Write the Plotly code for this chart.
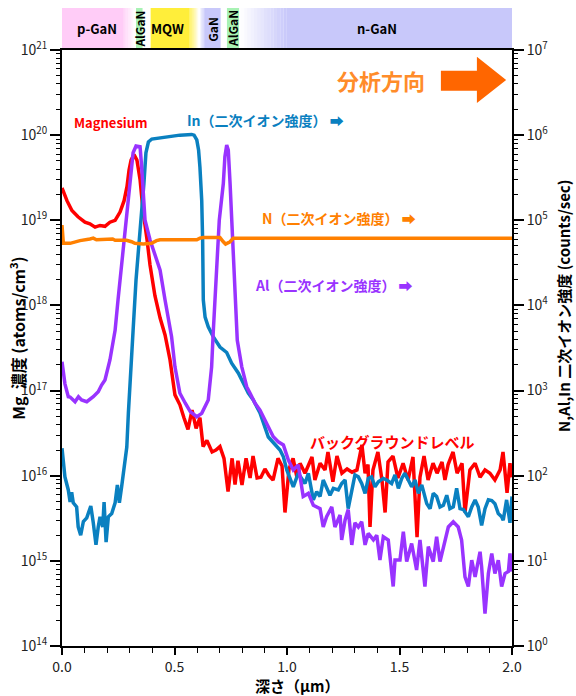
import plotly.graph_objects as go

# ---------------- data ----------------
mg_depth = [0.000, 0.022, 0.044, 0.071, 0.102, 0.124, 0.147, 0.169, 0.191, 0.213,
            0.236, 0.258, 0.276, 0.289, 0.298, 0.307, 0.320, 0.333, 0.347, 0.360,
            0.378, 0.391, 0.413, 0.436, 0.458, 0.480, 0.502, 0.524, 0.542, 0.560,
            0.578, 0.596, 0.613, 0.627, 0.644, 0.667, 0.684, 0.702, 0.720, 0.738,
            0.756, 0.769, 0.782, 0.800, 0.818, 0.836, 0.849, 0.867, 0.884, 0.902,
            0.920, 0.938, 0.960, 0.978, 0.991, 1.009, 1.027, 1.044, 1.058, 1.080,
            1.111, 1.124, 1.147, 1.169, 1.182, 1.204, 1.222, 1.244, 1.267, 1.289,
            1.311, 1.333, 1.347, 1.360, 1.369, 1.382, 1.404, 1.422, 1.436, 1.449,
            1.471, 1.493, 1.516, 1.538, 1.560, 1.578, 1.591, 1.609, 1.627, 1.649,
            1.667, 1.689, 1.702, 1.716, 1.738, 1.756, 1.778, 1.791, 1.813, 1.836,
            1.858, 1.880, 1.902, 1.924, 1.947, 1.960, 1.978, 1.991, 2.000]
mg_conc = [2.4e19, 1.7e19, 1.3e19, 1.1e19, 9.5e18, 9.1e18, 8.3e18, 8.7e18, 8.5e18, 9.5e18,
           1.0e19, 1.25e19, 1.7e19, 2.5e19, 3.9e19, 5.1e19, 5.9e19, 5.1e19, 3.0e19, 1.3e19,
           5.9e18, 3.0e18, 1.3e18, 7.1e17, 4.5e17, 2.3e17, 8.9e16, 6.8e16, 4.8e16, 3.5e16,
           5.9e16, 3.6e16, 4.8e16, 2.2e16, 2.6e16, 1.9e16, 2.0e16, 2.2e16, 1.6e16, 6.5e15,
           1.6e16, 7.9e15, 1.5e16, 7.8e15, 1.6e16, 9.4e15, 1.7e16, 9.4e15, 9.6e15, 1.2e16,
           1.0e16, 8.9e15, 1.6e16, 1.3e16, 3.7e15, 1.2e16, 1.6e16, 9.6e15, 1.4e16, 1.07e16,
           1.66e16, 8.9e15, 1.4e16, 1.17e16, 1.9e16, 8.5e15, 1.7e16, 1.07e16, 1.2e16, 1.1e16,
           1.17e16, 2.3e16, 1.07e16, 1.35e16, 2.5e15, 1.17e16, 1.9e16, 8.9e15, 3.7e15, 1.45e16,
           1.7e16, 9.4e15, 1.4e16, 8.9e15, 1.66e16, 1.9e15, 9.6e15, 1.7e16, 8.9e15, 1.4e16,
           1.07e16, 1.45e16, 8.9e15, 1.35e16, 1.9e16, 1.07e16, 1.4e16, 3.7e15, 1.17e16, 1.4e16,
           9.6e15, 1.17e16, 1.07e16, 8.9e15, 1.17e16, 1.9e16, 6.3e15, 1.4e16, 9.6e15]

in_depth = [0.000, 0.013, 0.028, 0.036, 0.043, 0.050, 0.065, 0.072, 0.083, 0.095,
            0.110, 0.128, 0.139, 0.151, 0.161, 0.169, 0.181, 0.187, 0.196, 0.206,
            0.221, 0.236, 0.246, 0.255, 0.265, 0.280, 0.288, 0.295, 0.302, 0.316,
            0.329, 0.342, 0.354, 0.364, 0.373, 0.384, 0.399, 0.421, 0.436, 0.480,
            0.524, 0.576, 0.587, 0.599, 0.607, 0.613, 0.621, 0.625, 0.628, 0.636,
            0.650, 0.672, 0.702, 0.732, 0.754, 0.784, 0.806, 0.828, 0.850, 0.880,
            0.917, 0.969, 0.984, 0.999, 1.028, 1.050, 1.065, 1.080, 1.095, 1.110,
            1.117, 1.132, 1.147, 1.161, 1.176, 1.191, 1.206, 1.228, 1.243, 1.258,
            1.272, 1.288, 1.302, 1.317, 1.332, 1.347, 1.361, 1.376, 1.391, 1.406,
            1.428, 1.443, 1.465, 1.480, 1.495, 1.510, 1.524, 1.539, 1.554, 1.569,
            1.584, 1.599, 1.621, 1.636, 1.643, 1.650, 1.665, 1.680, 1.695, 1.710,
            1.724, 1.739, 1.754, 1.769, 1.784, 1.806, 1.821, 1.836, 1.850, 1.865,
            1.880, 1.895, 1.910, 1.924, 1.939, 1.954, 1.961, 1.976, 1.991, 2.000]
in_counts = [210, 97, 68, 49, 64, 48, 43, 25, 20, 29,
             32, 44, 28, 15.4, 25, 33, 25, 49, 16.6, 33,
             36, 48, 78, 48, 74, 141, 217, 545, 1330, 5100,
             2.0e4, 5.1e4, 1.06e5, 2.7e5, 6.2e5, 8.3e5, 9.0e5, 9.2e5, 9.2e5, 9.6e5,
             1.0e6, 1.02e6, 1.0e6, 8.8e5, 6.7e5, 4.2e5, 1.7e5, 5.9e4, 1.16e4, 7.3e3,
             5.6e3, 4.3e3, 3.25e3, 2.8e3, 2.1e3, 1.6e3, 1.23e3, 935, 775, 545,
             285, 200, 167, 117, 74, 107, 93, 81, 107, 68,
             52, 65, 57, 89, 74, 59, 71, 68, 81, 89,
             41, 68, 102, 97, 81, 62, 93, 97, 74, 85,
             93, 89, 81, 102, 71, 93, 107, 89, 74, 89,
             62, 78, 47, 41, 52, 62, 57, 43, 45, 59,
             41, 43, 71, 41, 40, 33, 43, 52, 43, 26,
             41, 52, 51, 47, 36, 33, 30, 52, 28, 57]

al_depth = [0.000, 0.013, 0.028, 0.036, 0.058, 0.073, 0.087, 0.110, 0.139, 0.161,
            0.176, 0.191, 0.213, 0.236, 0.249, 0.258, 0.271, 0.287, 0.302, 0.316,
            0.329, 0.347, 0.354, 0.361, 0.369, 0.391, 0.413, 0.436, 0.458, 0.487,
            0.502, 0.524, 0.548, 0.570, 0.599, 0.621, 0.650, 0.665, 0.672, 0.687,
            0.699, 0.717, 0.724, 0.732, 0.739, 0.747, 0.761, 0.769, 0.779, 0.799,
            0.821, 0.836, 0.858, 0.880, 0.895, 0.917, 0.939, 0.961, 0.984, 1.006,
            1.028, 1.050, 1.072, 1.095, 1.117, 1.147, 1.161, 1.176, 1.199, 1.213,
            1.236, 1.243, 1.258, 1.272, 1.288, 1.302, 1.317, 1.332, 1.347, 1.361,
            1.384, 1.399, 1.413, 1.428, 1.450, 1.472, 1.480, 1.502, 1.517, 1.532,
            1.554, 1.576, 1.591, 1.613, 1.628, 1.650, 1.665, 1.680, 1.702, 1.717,
            1.739, 1.761, 1.776, 1.791, 1.806, 1.821, 1.836, 1.858, 1.865, 1.880,
            1.895, 1.910, 1.924, 1.939, 1.954, 1.969, 1.984, 1.991, 2.000]
al_counts = [2180, 1200, 847, 840, 740, 847, 775, 740, 847, 970,
             1160, 1330, 2290, 5100, 1.16e4, 2.0e4, 4.5e4, 1.0e5, 2.7e5, 6.2e5,
             7.45e5, 7.3e5, 4.26e5, 2.1e5, 1.0e5, 5.9e4, 3.9e4, 2.6e4, 1.16e4, 4.3e3,
             1.9e3, 930, 710, 565, 493, 540, 775, 1.9e3, 4.74e3, 2.85e4,
             1.0e5, 2.7e5, 5.58e5, 7.66e5, 6.7e5, 2.7e5, 4.5e4, 1.16e4, 3.9e3, 1.9e3,
             1110, 930, 710, 590, 493, 377, 287, 250, 230, 153,
             117, 134, 57, 62, 45, 41, 25, 33, 43, 25,
             34.5, 17.6, 30, 40, 15.4, 28, 25, 28.8, 15.4, 21,
             17.6, 20, 10.2, 19.2, 17.6, 5.0, 10.2, 10.2, 22, 9.8,
             16, 7.8, 17.6, 5.0, 14.7, 9.8, 19.2, 9.8, 17.6, 25,
             28.8, 25, 17.6, 6.5, 5.0, 10.2, 6.5, 12.8, 8.5, 2.4,
             7.1, 12.2, 7.1, 10.2, 5.0, 7.1, 7.5, 12.2, 7.5]

n_depth = [0.000, 0.006, 0.036, 0.080, 0.124, 0.139, 0.153, 0.213, 0.225, 0.236,
           0.287, 0.309, 0.324, 0.361, 0.398, 0.420, 0.436, 0.599, 0.613, 0.628,
           0.702, 0.717, 0.727, 0.747, 0.761, 2.000]
n_counts = [8.8e4, 5.36e4, 5.36e4, 5.77e4, 6.03e4, 6.17e4, 5.9e4, 5.9e4, 6.03e4, 5.83e4,
            5.83e4, 5.6e4, 5.36e4, 5.26e4, 5.36e4, 5.77e4, 5.9e4, 5.9e4, 6.17e4, 6.27e4,
            6.27e4, 5.6e4, 5.26e4, 5.6e4, 6.17e4, 6.17e4]

left_exponents = [14, 15, 16, 17, 18, 19, 20, 21]
right_exponents = [0, 1, 2, 3, 4, 5, 6, 7]
x_tick_vals = [0.0, 0.5, 1.0, 1.5, 2.0]
x_tick_text = ["0.0", "0.5", "1.0", "1.5", "2.0"]

layer_names = ["p-GaN", "AlGaN", "MQW", "GaN", "AlGaN", "n-GaN"]
layer_start = [0.0, 0.329, 0.394, 0.612, 0.733, 0.795]
layer_end = [0.320, 0.358, 0.607, 0.705, 0.787, 2.0]
layer_fade_in = [0.0, 0.0, 0.0, 0.02, 0.0, 0.204]
layer_fade_out = [0.048, 0.0, 0.042, 0.0, 0.0, 0.0]
layer_colors = ["#FFCCF7", "#A8F2B4", "#FFEE3A", "#C8C8FA", "#A8F2B4", "#C8C8FA"]
layer_label_x = [0.155, 0.345, 0.47, 0.67, 0.76, 1.40]
layer_label_angle = [0, -90, 0, -90, -90, 0]

FONT = "Noto Sans CJK JP"
RED = "#FF0000"
BLUE = "#0A80C0"
PURPLE = "#9933FF"
ORANGE = "#FF8000"

fig = go.Figure()
fig.add_trace(go.Scatter(x=mg_depth, y=mg_conc, mode="lines", name="Mg",
                         line=dict(color=RED, width=3.5), yaxis="y"))
fig.add_trace(go.Scatter(x=in_depth, y=in_counts, mode="lines", name="In",
                         line=dict(color=BLUE, width=3.5), yaxis="y2"))
fig.add_trace(go.Scatter(x=al_depth, y=al_counts, mode="lines", name="Al",
                         line=dict(color=PURPLE, width=3.5), yaxis="y2"))
fig.add_trace(go.Scatter(x=n_depth, y=n_counts, mode="lines", name="N",
                         line=dict(color=ORANGE, width=3.5), yaxis="y2"))

# ---- layer band above the plot ----
shapes = []
BAND_Y0, BAND_Y1 = 1.0, 1.0705
NSLICE = 14
for name, s, e, fi, fo, col in zip(layer_names, layer_start, layer_end,
                                   layer_fade_in, layer_fade_out, layer_colors):
    solid0 = s + fi
    solid1 = e - fo
    shapes.append(dict(type="rect", xref="x", yref="paper", x0=solid0, x1=solid1,
                       y0=BAND_Y0, y1=BAND_Y1, fillcolor=col, line=dict(width=0),
                       layer="below"))
    if fi > 0:
        w = fi / NSLICE
        for i in range(NSLICE):
            shapes.append(dict(type="rect", xref="x", yref="paper",
                               x0=s + i * w, x1=s + (i + 1) * w + 1e-4,
                               y0=BAND_Y0, y1=BAND_Y1, fillcolor=col,
                               opacity=(i + 0.5) / NSLICE, line=dict(width=0),
                               layer="below"))
    if fo > 0:
        w = fo / NSLICE
        for i in range(NSLICE):
            shapes.append(dict(type="rect", xref="x", yref="paper",
                               x0=solid1 + i * w, x1=solid1 + (i + 1) * w + 1e-4,
                               y0=BAND_Y0, y1=BAND_Y1, fillcolor=col,
                               opacity=1 - (i + 0.5) / NSLICE, line=dict(width=0),
                               layer="below"))

# direction arrow (analysis direction)
shapes.append(dict(type="path", xref="paper", yref="paper",
                   path="M 0.842 0.9653 L 0.922 0.9653 L 0.922 0.9888 L 0.987 0.9497 "
                        "L 0.922 0.9111 L 0.922 0.9317 L 0.842 0.9317 Z",
                   fillcolor="#FF6600", line=dict(width=0)))

annotations = []
for name, lx, ang in zip(layer_names, layer_label_x, layer_label_angle):
    annotations.append(dict(x=lx, y=(BAND_Y0 + BAND_Y1) / 2, xref="x", yref="paper",
                            text="<b>" + name + "</b>", showarrow=False,
                            textangle=ang, font=dict(family=FONT, size=12 if ang else 13,
                                                     color="black"),
                            xanchor="center", yanchor="middle"))

labels = [
    ("<b>分析方向</b>", 0.709, 0.9497, "center", 22, "#FF8C2A"),
    ("<b>Magnesium</b>", 0.022, 0.879, "left", 13, RED),
    ("<b>In（二次イオン強度） ➡</b>", 0.273, 0.8826, "left", 14, BLUE),
    ("<b>N（二次イオン強度） ➡</b>", 0.44, 0.718, "left", 14, ORANGE),
    ("<b>Al（二次イオン強度） ➡</b>", 0.4244, 0.6057, "left", 14, PURPLE),
    ("<b>バックグラウンドレベル</b>", 0.5467, 0.3423, "left", 15, RED),
]
for txt, ax_, ay_, anc, sz, col in labels:
    annotations.append(dict(x=ax_, y=ay_, xref="paper", yref="paper", text=txt,
                            showarrow=False, xanchor=anc, yanchor="middle",
                            font=dict(family=FONT, size=sz, color=col)))

# axis titles
annotations.append(dict(x=-0.098, y=0.517, xref="paper", yref="paper",
                        text="<b>Mg\u00a0\u00a0濃度 (atoms/cm<sup>3</sup>)</b>", textangle=-90,
                        xanchor="center", yanchor="middle",
                        showarrow=False, font=dict(family=FONT, size=16, color="black")))
annotations.append(dict(x=1.115, y=0.570, xref="paper", yref="paper",
                        text="<b>N,Al,In\u00a0二次イオン強度\u00a0(counts/sec)</b>", textangle=-90,
                        xanchor="center", yanchor="middle",
                        showarrow=False, font=dict(family=FONT, size=15, color="black")))
annotations.append(dict(x=0.522, y=-0.067, xref="paper", yref="paper",
                        text="<b>深さ（μm）</b>", showarrow=False,
                        xanchor="center", yanchor="middle",
                        font=dict(family=FONT, size=15, color="black")))

left_minor = [k * 10.0 ** n for n in left_exponents[:-1] for k in range(2, 10)]
right_minor = [k * 10.0 ** n for n in right_exponents[:-1] for k in range(2, 10)]

tickfont = dict(family=FONT, size=14, color="#222222")

fig.update_layout(
    width=576, height=696,
    margin=dict(l=62, r=64, t=50, b=50, autoexpand=False),
    paper_bgcolor="white", plot_bgcolor="white",
    showlegend=False,
    shapes=shapes, annotations=annotations,
    xaxis=dict(range=[0, 2], tickvals=x_tick_vals, ticktext=x_tick_text,
               ticks="outside", ticklen=7, tickwidth=1.5, tickcolor="black",
               minor=dict(dtick=0.1, ticks="outside", ticklen=5, tickwidth=1.2,
                          tickcolor="black", showgrid=False),
               showline=True, linewidth=2, linecolor="black", mirror=True,
               showgrid=False, zeroline=False, tickfont=tickfont),
    yaxis=dict(type="log", range=[14, 21],
               tickvals=[10.0 ** e for e in left_exponents],
               ticktext=["10<sup>%d</sup>" % e for e in left_exponents],
               ticks="outside", ticklen=10, tickwidth=1.5, tickcolor="black",
               minor=dict(tickmode="array", tickvals=left_minor, ticks="outside",
                          ticklen=4, tickwidth=1.2, tickcolor="black", showgrid=False),
               showline=True, linewidth=2, linecolor="black",
               showgrid=False, zeroline=False, tickfont=tickfont),
    yaxis2=dict(type="log", range=[0, 7], overlaying="y", side="right",
                tickvals=[10.0 ** e for e in right_exponents],
                ticktext=["10<sup>%d</sup>" % e for e in right_exponents],
                ticks="outside", ticklen=10, tickwidth=1.5, tickcolor="black",
                minor=dict(tickmode="array", tickvals=right_minor, ticks="outside",
                           ticklen=4, tickwidth=1.2, tickcolor="black", showgrid=False),
                showline=True, linewidth=2, linecolor="black",
                showgrid=False, zeroline=False, tickfont=tickfont),
)

# remove the browser's default page margin so the figure fills the window exactly
fig.write_html("out.html",
               config={"displayModeBar": False},
               post_script="document.body.style.margin='0';"
                           "document.body.style.overflow='hidden';")
